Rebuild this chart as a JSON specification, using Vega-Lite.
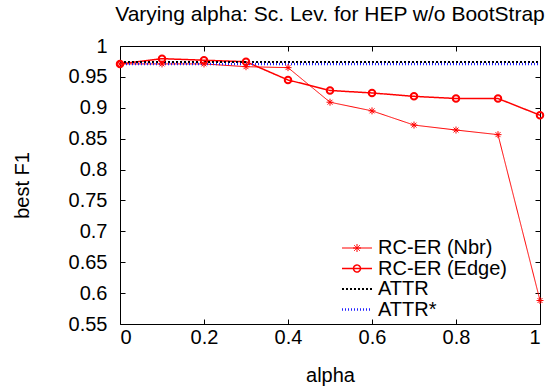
{
  "$schema": "https://vega.github.io/schema/vega-lite/v6.json",
  "width": 420,
  "height": 278,
  "autosize": {"type": "none"},
  "padding": {"left": 120, "top": 46, "right": 5, "bottom": 66},
  "background": "white",
  "title": {
    "text": "Varying alpha: Sc. Lev. for HEP w/o BootStrap",
    "fontSize": 21,
    "font": "Liberation Sans",
    "fontWeight": "normal",
    "color": "black",
    "anchor": "middle",
    "offset": 11
  },
  "config": {
    "font": "Liberation Sans",
    "view": {"stroke": "black", "strokeWidth": 1},
    "axis": {
      "labelFont": "Liberation Sans",
      "titleFont": "Liberation Sans",
      "labelFontSize": 20,
      "titleFontSize": 20,
      "titleFontWeight": "normal",
      "labelColor": "black",
      "titleColor": "black",
      "tickColor": "black",
      "grid": false,
      "domain": false
    },
    "legend": {"labelFont": "Liberation Sans"}
  },
  "data": {
    "values": [
      {"series": "RC-ER (Nbr)", "alpha": 0.0, "f1": 0.971},
      {"series": "RC-ER (Nbr)", "alpha": 0.1, "f1": 0.971},
      {"series": "RC-ER (Nbr)", "alpha": 0.2, "f1": 0.971},
      {"series": "RC-ER (Nbr)", "alpha": 0.3, "f1": 0.9665},
      {"series": "RC-ER (Nbr)", "alpha": 0.4, "f1": 0.965},
      {"series": "RC-ER (Nbr)", "alpha": 0.5, "f1": 0.909},
      {"series": "RC-ER (Nbr)", "alpha": 0.6, "f1": 0.895},
      {"series": "RC-ER (Nbr)", "alpha": 0.7, "f1": 0.872},
      {"series": "RC-ER (Nbr)", "alpha": 0.8, "f1": 0.864},
      {"series": "RC-ER (Nbr)", "alpha": 0.9, "f1": 0.8565},
      {"series": "RC-ER (Nbr)", "alpha": 1.0, "f1": 0.588},
      {"series": "RC-ER (Edge)", "alpha": 0.0, "f1": 0.971},
      {"series": "RC-ER (Edge)", "alpha": 0.1, "f1": 0.9795},
      {"series": "RC-ER (Edge)", "alpha": 0.2, "f1": 0.977},
      {"series": "RC-ER (Edge)", "alpha": 0.3, "f1": 0.9745},
      {"series": "RC-ER (Edge)", "alpha": 0.4, "f1": 0.945},
      {"series": "RC-ER (Edge)", "alpha": 0.5, "f1": 0.928},
      {"series": "RC-ER (Edge)", "alpha": 0.6, "f1": 0.924},
      {"series": "RC-ER (Edge)", "alpha": 0.7, "f1": 0.9185},
      {"series": "RC-ER (Edge)", "alpha": 0.8, "f1": 0.915},
      {"series": "RC-ER (Edge)", "alpha": 0.9, "f1": 0.915},
      {"series": "RC-ER (Edge)", "alpha": 1.0, "f1": 0.888},
      {"series": "ATTR", "alpha": 0.0, "f1": 0.974},
      {"series": "ATTR", "alpha": 1.0, "f1": 0.974},
      {"series": "ATTR*", "alpha": 0.0, "f1": 0.971},
      {"series": "ATTR*", "alpha": 1.0, "f1": 0.971}
    ]
  },
  "encoding": {
    "x": {"field": "alpha", "type": "quantitative", "scale": {"domain": [0, 1], "nice": false, "zero": false}},
    "y": {"field": "f1", "type": "quantitative", "scale": {"domain": [0.55, 1], "nice": false, "zero": false}}
  },
  "layer": [
    {
      "mark": {"type": "line", "clip": false},
      "encoding": {
        "x": {"field": "alpha", "type": "quantitative", "axis": {"orient": "bottom", "title": "alpha", "values": [0, 0.2, 0.4, 0.6, 0.8, 1], "format": "~g", "tickSize": -5, "labelPadding": 8, "titlePadding": 18}},
        "y": {"field": "f1", "type": "quantitative", "axis": {"orient": "left", "title": "best F1", "values": [0.55, 0.6, 0.65, 0.7, 0.75, 0.8, 0.85, 0.9, 0.95, 1], "format": "~g", "tickSize": -5, "labelPadding": 18, "titlePadding": 36}},
        "color": {"field": "series", "type": "nominal", "scale": {"domain": ["RC-ER (Nbr)", "RC-ER (Edge)", "ATTR", "ATTR*"], "range": ["#ff0000", "#ff0000", "#000000", "#2020ff"]}},
        "strokeDash": {"field": "series", "type": "nominal", "scale": {"domain": ["RC-ER (Nbr)", "RC-ER (Edge)", "ATTR", "ATTR*"], "range": [[1, 0], [1, 0], [2, 2], [1, 2]]}},
        "strokeWidth": {"field": "series", "type": "nominal", "scale": {"domain": ["RC-ER (Nbr)", "RC-ER (Edge)", "ATTR", "ATTR*"], "range": [1, 2.5, 3, 1]}}
      }
    },
    {
      "transform": [{"filter": "datum.series == 'RC-ER (Nbr)'"}],
      "mark": {"type": "point", "shape": "M-1,0L1,0M0,-1L0,1M-0.7,-0.7L0.7,0.7M-0.7,0.7L0.7,-0.7", "size": 49, "filled": false, "stroke": "#ff0000", "strokeWidth": 1, "opacity": 1, "clip": false},
      "encoding": {
        "x": {"field": "alpha", "type": "quantitative", "axis": null},
        "y": {"field": "f1", "type": "quantitative", "axis": null}
      }
    },
    {
      "transform": [{"filter": "datum.series == 'RC-ER (Edge)'"}],
      "mark": {"type": "point", "shape": "circle", "size": 42, "filled": false, "stroke": "#ff0000", "strokeWidth": 2, "opacity": 1, "clip": false},
      "encoding": {
        "x": {"field": "alpha", "type": "quantitative", "axis": null},
        "y": {"field": "f1", "type": "quantitative", "axis": null}
      }
    },
    {
      "mark": {"type": "point", "filled": false, "opacity": 0, "clip": false},
      "encoding": {
        "x": {"field": "alpha", "type": "quantitative", "axis": {"orient": "top", "title": null, "labels": false, "values": [0, 0.2, 0.4, 0.6, 0.8, 1], "tickSize": -5}},
        "y": {"field": "f1", "type": "quantitative", "axis": {"orient": "right", "title": null, "labels": false, "values": [0.55, 0.6, 0.65, 0.7, 0.75, 0.8, 0.85, 0.9, 0.95, 1], "tickSize": -5}},
        "shape": {
          "field": "series", "type": "nominal",
          "scale": {"domain": ["RC-ER (Nbr)", "RC-ER (Edge)", "ATTR", "ATTR*"], "range": [
            "M-3,0L3,0M-0.8,0L0.8,0M0,-0.8L0,0.8M-0.6,-0.6L0.6,0.6M-0.6,0.6L0.6,-0.6",
            "M-3,0L3,0M0.7,0A0.7,0.7 0 1,1 -0.7,0A0.7,0.7 0 1,1 0.7,0",
            "M-3,0L3,0",
            "M-3,0L3,0"
          ]},
          "legend": {
            "title": null,
            "orient": "none",
            "legendX": 227,
            "legendY": 192,
            "padding": 0,
            "symbolSize": 100,
            "labelFontSize": 20,
            "labelColor": "black",
            "labelOffset": 11,
            "rowPadding": 0.5,
            "symbolFillColor": "transparent"
          }
        },
        "color": {"field": "series", "type": "nominal"},
        "strokeDash": {"field": "series", "type": "nominal"},
        "strokeWidth": {"field": "series", "type": "nominal"}
      }
    }
  ],
  "resolve": {"axis": {"x": "independent", "y": "independent"}}
}
